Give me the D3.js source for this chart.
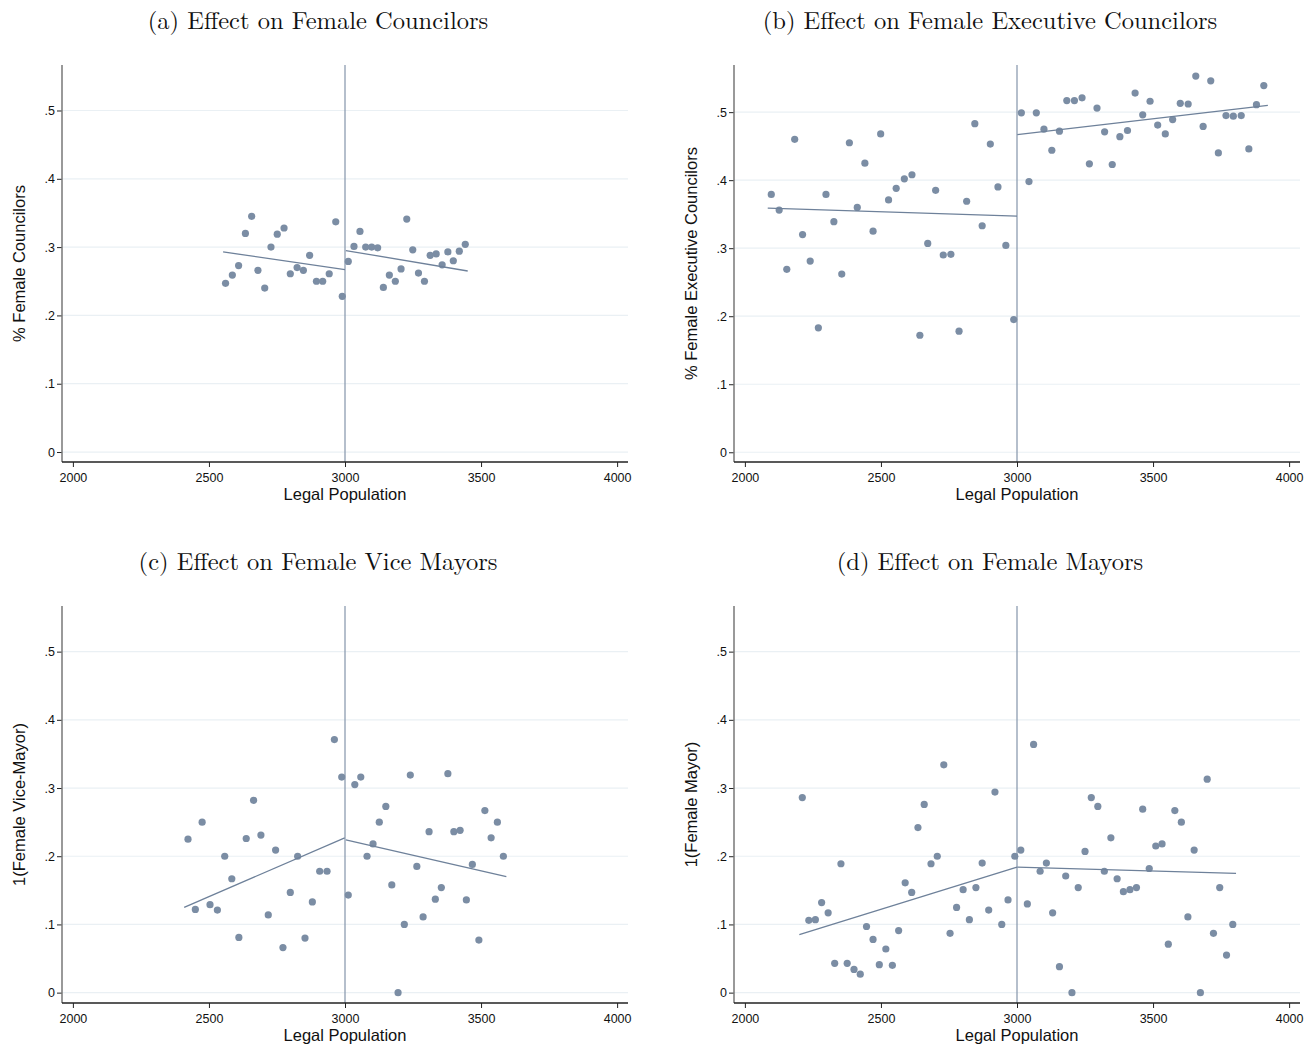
<!DOCTYPE html>
<html>
<head>
<meta charset="utf-8">
<script src="https://cdn.jsdelivr.net/npm/d3@7"></script>
<style>
  body { margin: 0; background: #fff; }
  svg { display: block; }
  .title { font-family: "Latin Modern Roman", "Liberation Serif", serif; font-size: 24.5px; fill: #111; }
  .tick text { font-family: "Liberation Sans", Arial, sans-serif; font-size: 12.5px; fill: #111; }
  .axlab { font-family: "Liberation Sans", Arial, sans-serif; font-size: 16.5px; fill: #111; }
</style>
</head>
<body>
<svg id="chart" width="1306" height="1044"></svg>
<script>
// Werte (Bin-Mittelpunkt = Einwohner, Anteil)

// (a) Female councilors
const popA = [2561,2586,2609,2634,2657,2680,2705,2728,2751,2776,2799,2824,2847,2870,2895,2918,2942,2966,2990,
              3012,3033,3055,3076,3098,3120,3141,3163,3185,3206,3227,3249,3270,3292,3313,3335,3357,3378,3398,3420,3442];
const valA = [0.247,0.259,0.273,0.320,0.345,0.266,0.240,0.300,0.319,0.328,0.261,0.270,0.266,0.288,0.250,0.250,0.261,0.337,0.228,
              0.279,0.301,0.323,0.300,0.300,0.299,0.241,0.259,0.250,0.268,0.341,0.296,0.262,0.250,0.288,0.290,0.274,0.293,0.280,0.294,0.304];
const fitA = [[2552,0.293],[3000,0.267],[3003,0.295],[3451,0.265]];

// (b) Female executive councilors
const popB = [2097,2126,2154,2183,2212,2240,2270,2298,2327,2356,2384,2413,2441,2471,2499,2528,2556,2586,2614,2643,2672,2701,2729,2757,2787,2815,2845,2872,2902,2930,2959,2988,
              3016,3044,3071,3099,3128,3156,3183,3211,3239,3266,3294,3322,3350,3378,3406,3434,3462,3489,3517,3545,3572,3600,3629,3657,3684,3712,3740,3768,3795,3824,3852,3880,3907];
const valB = [0.379,0.356,0.269,0.460,0.320,0.281,0.183,0.379,0.339,0.262,0.455,0.360,0.425,0.325,0.468,0.371,0.388,0.402,0.408,0.172,0.307,0.385,0.290,0.291,0.178,0.369,0.483,0.333,0.453,0.390,0.304,0.195,
              0.499,0.398,0.499,0.475,0.444,0.472,0.517,0.517,0.521,0.424,0.506,0.471,0.423,0.464,0.473,0.528,0.496,0.516,0.481,0.468,0.489,0.513,0.512,0.553,0.479,0.546,0.440,0.495,0.494,0.495,0.446,0.511,0.539];
const fitB = [[2084,0.359],[3000,0.347],[3001,0.467],[3922,0.510]];

// (c) Female vice mayors
const popC = [2423,2450,2475,2504,2531,2558,2584,2610,2637,2664,2691,2718,2745,2772,2799,2826,2853,2880,2907,2934,2961,2988,
              3012,3036,3058,3081,3103,3126,3150,3172,3195,3218,3240,3264,3287,3309,3332,3354,3378,3400,3423,3446,3468,3492,3514,3537,3560,3582];
const valC = [0.225,0.122,0.250,0.129,0.121,0.200,0.167,0.081,0.226,0.282,0.231,0.114,0.209,0.066,0.147,0.200,0.080,0.133,0.178,0.178,0.371,0.316,
              0.143,0.305,0.316,0.200,0.218,0.250,0.273,0.158,0.000,0.100,0.319,0.185,0.111,0.236,0.137,0.154,0.321,0.236,0.238,0.136,0.188,0.077,0.267,0.227,0.250,0.200];
const fitC = [[2409,0.125],[2999,0.227],[3003,0.224],[3593,0.170]];

// (d) Female mayors
const popD = [2211,2235,2259,2282,2306,2330,2353,2376,2401,2424,2447,2471,2494,2518,2542,2565,2589,2613,2636,2659,2684,2707,2731,2754,2778,2802,2825,2849,2872,2896,2919,2944,2967,2992,
              3014,3038,3061,3085,3108,3131,3156,3179,3202,3225,3250,3273,3297,3321,3345,3368,3391,3415,3439,3462,3486,3510,3533,3556,3580,3604,3628,3651,3674,3699,3722,3745,3770,3793];
const valD = [0.286,0.106,0.107,0.132,0.117,0.043,0.189,0.043,0.034,0.027,0.097,0.078,0.041,0.064,0.040,0.091,0.161,0.147,0.242,0.276,0.189,0.200,0.334,0.087,0.125,0.151,0.107,0.154,0.190,0.121,0.294,0.100,0.136,0.200,
              0.209,0.130,0.364,0.178,0.190,0.117,0.038,0.171,0.000,0.154,0.207,0.286,0.273,0.178,0.227,0.167,0.148,0.151,0.154,0.269,0.182,0.215,0.218,0.071,0.267,0.250,0.111,0.209,0.000,0.313,0.087,0.154,0.055,0.100];
const fitD = [[2200,0.085],[3000,0.184],[3001,0.184],[3805,0.175]];

const xTicks = [2000, 2500, 3000, 3500, 4000];
const yTicks = [0, 0.1, 0.2, 0.3, 0.4, 0.5];
const cutoff = 3000;

const panels = [
  {title: "(a) Effect on Female Councilors", ylab: "% Female Councilors", pop: popA, val: valA, fit: fitA,
   left: 62, top: 65, bottom: 462, ydom: [-0.0146, 0.5666], tx: 318},
  {title: "(b) Effect on Female Executive Councilors", ylab: "% Female Executive Councilors", pop: popB, val: valB, fit: fitB,
   left: 734, top: 65, bottom: 462, ydom: [-0.0143, 0.5693], tx: 990},
  {title: "(c) Effect on Female Vice Mayors", ylab: "1(Female Vice-Mayor)", pop: popC, val: valC, fit: fitC,
   left: 62, top: 606, bottom: 1003, ydom: [-0.0152, 0.5669], tx: 318},
  {title: "(d) Effect on Female Mayors", ylab: "1(Female Mayor)", pop: popD, val: valD, fit: fitD,
   left: 734, top: 606, bottom: 1003, ydom: [-0.0152, 0.5669], tx: 990}
];

const svg = d3.select("#chart");
const dotColor = "#7b8da4";
const lineColor = "#6e819a";

panels.forEach(function(p) {
  const g = svg.append("g");
  const x = d3.scaleLinear().domain([1960, 4040]).range([p.left, p.left + 566]);
  const y = d3.scaleLinear().domain(p.ydom).range([p.bottom, p.top]);

  // Gitterlinien
  g.selectAll("line.grid")
    .data(yTicks)
    .enter().append("line")
      .attr("x1", p.left).attr("x2", p.left + 566)
      .attr("y1", function(d) { return y(d); })
      .attr("y2", function(d) { return y(d); })
      .attr("stroke", "#eaf0f4")
      .attr("stroke-width", 1.2);

  // Schwelle bei 3000
  g.append("line")
    .attr("x1", x(cutoff)).attr("x2", x(cutoff))
    .attr("y1", p.top).attr("y2", p.bottom)
    .attr("stroke", "#8494aa")
    .attr("stroke-width", 1.2);

  // Punkte
  g.selectAll("circle")
    .data(d3.zip(p.pop, p.val))
    .enter().append("circle")
      .attr("cx", function(d) { return x(d[0]); })
      .attr("cy", function(d) { return y(d[1]); })
      .attr("r", 3.6)
      .attr("fill", dotColor);

  // lineare Fits links / rechts
  const line = d3.line().x(function(d) { return x(d[0]); }).y(function(d) { return y(d[1]); });
  [p.fit.slice(0, 2), p.fit.slice(2, 4)].forEach(function(seg) {
    g.append("path")
      .attr("d", line(seg))
      .attr("fill", "none")
      .attr("stroke", lineColor)
      .attr("stroke-width", 1.3);
  });

  // Achsen
  const yAxis = g.append("g")
    .attr("transform", "translate(" + p.left + ",0)")
    .call(d3.axisLeft(y).tickValues(yTicks).tickSize(5)
      .tickFormat(function(d) { return d === 0 ? "0" : d3.format(".1f")(d).replace(/^0/, ""); }));
  yAxis.select(".domain").remove();
  yAxis.selectAll(".tick line").attr("stroke", "#222");
  yAxis.selectAll(".tick text").attr("x", -7);
  g.append("line")
    .attr("x1", p.left).attr("x2", p.left)
    .attr("y1", p.top).attr("y2", p.bottom)
    .attr("stroke", "#777")
    .attr("stroke-width", 1.5);

  const xAxis = g.append("g")
    .attr("transform", "translate(0," + p.bottom + ")")
    .call(d3.axisBottom(x).tickValues(xTicks).tickSize(5).tickFormat(d3.format("d")));
  xAxis.select(".domain").remove();
  xAxis.selectAll(".tick line").attr("stroke", "#222");
  xAxis.selectAll(".tick text").attr("y", 11);
  g.append("line")
    .attr("x1", p.left).attr("x2", p.left + 566)
    .attr("y1", p.bottom).attr("y2", p.bottom)
    .attr("stroke", "#222")
    .attr("stroke-width", 1.3);

  // Beschriftungen
  g.append("text")
    .attr("class", "axlab")
    .attr("x", x(cutoff))
    .attr("y", p.bottom + 38)
    .attr("text-anchor", "middle")
    .text("Legal Population");

  g.append("text")
    .attr("class", "axlab")
    .attr("transform", "translate(" + (p.left - 37) + "," + ((p.top + p.bottom) / 2) + ") rotate(-90)")
    .attr("text-anchor", "middle")
    .text(p.ylab);

  g.append("text")
    .attr("class", "title")
    .attr("x", p.tx)
    .attr("y", p.top - 36)
    .attr("text-anchor", "middle")
    .text(p.title);
});
</script>
</body>
</html>
